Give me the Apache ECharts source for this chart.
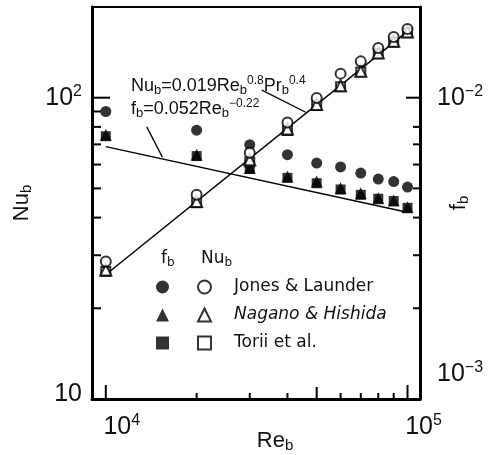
<!DOCTYPE html>
<html>
<head>
<meta charset="utf-8">
<script src="https://cdn.jsdelivr.net/npm/echarts@6/dist/echarts.min.js"></script>
<style>
  html, body { margin: 0; padding: 0; background: #fff; }
  #chart { width: 495px; height: 455px; }
</style>
</head>
<body>
<div id="chart"></div>
<script>
// Bulk Reynolds numbers of the measurement stations
const reynolds = [1e4, 2e4, 3e4, 4e4, 5e4, 6e4, 7e4, 8e4, 9e4, 1e5];

// Nusselt number Nu_b
const nuJones  = [28.6, 47.6, 65.6, 82.8, 99.8, 120.2, 132.0, 146.2, 159.1, 169.1];
const nuNagano = [26.8, 45.2, 62.2, 78.7, 95.0, 109.6, 122.3, 140.8, 153.8, 165.3];
const nuTorii  = [26.5, 44.8, 61.2, 77.8, 94.2, 108.8, 121.6, 139.8, 152.8, 164.4];

// Friction factor f_b
const fJones  = [9.0e-3, 7.8e-3, 6.98e-3, 6.47e-3, 6.07e-3, 5.89e-3, 5.62e-3, 5.37e-3, 5.27e-3, 5.05e-3];
const fNagano = [7.54e-3, 6.47e-3, 5.85e-3, 5.48e-3, 5.27e-3, 5.01e-3, 4.82e-3, 4.64e-3, 4.56e-3, 4.33e-3];
const fTorii  = [7.45e-3, 6.40e-3, 5.80e-3, 5.42e-3, 5.20e-3, 4.96e-3, 4.76e-3, 4.62e-3, 4.54e-3, 4.31e-3];

// Correlation lines (end points)
const nuFitRe = [1.03e4, 1e5];
const nuFitValues = [26.5, 166];
const fFitRe = [1e4, 9.8e4];
const fFitValues = [6.88e-3, 4.18e-3];

// Annotation arrows (tail, head)
const nuArrowRe = [3.29e4, 4.6e4];
const nuArrowValues = [106, 89.5];
const fArrowRe = [1.367e4, 1.54e4];
const fArrowValues = [8.0e-3, 6.35e-3];

// Axis ranges, ticks and labels
const reRange = [9000, 110000];
const nuRange = [10, 200];
const fRange = [1e-3, 2e-2];
const reTicks = [1e4, 2e4, 3e4, 4e4, 5e4, 6e4, 7e4, 8e4, 9e4, 1e5];
const nuTicks = [20, 30, 40, 50, 60, 70, 80, 90, 100];
const fTicks = [2e-3, 3e-3, 4e-3, 5e-3, 6e-3, 7e-3, 8e-3, 1e-2];
const reLabels = [1e4, 1e5];
const nuLabels = [10, 100];
const fLabels = [1e-3, 1e-2];

const FONT = '"Liberation Sans", Arial, Helvetica, sans-serif';
const LEGEND_FONT = '"DejaVu Sans", "Liberation Sans", sans-serif';
const near = (a, b) => Math.abs(Math.log10(a / b)) < 1e-6;
const isDecade = v => near(v, Math.pow(10, Math.round(Math.log10(v))));
const isHalfDecade = v => near(v / 5, Math.pow(10, Math.round(Math.log10(v / 5))));
const exponent = v => Math.round(Math.log10(v));

const labelRich = {
  m:   { fontFamily: FONT, fontSize: 25, lineHeight: 28, color: '#111' },
  s:   { fontFamily: FONT, fontSize: 16, lineHeight: 16, color: '#111', verticalAlign: 'top' },
  g10: { fontSize: 1, lineHeight: 10 },
  g50: { fontSize: 1, lineHeight: 50 }
};
const nameRich = {
  m: { fontFamily: FONT, fontSize: 22, lineHeight: 24, color: '#111' },
  s: { fontFamily: FONT, fontSize: 15, lineHeight: 12, color: '#111', verticalAlign: 'bottom' }
};

// Inward tick marks drawn through the axis scales
function tickSeries(values, side, yAxisIndex, fixed) {
  return {
    type: 'custom',
    xAxisIndex: 0,
    yAxisIndex: yAxisIndex,
    silent: true,
    clip: false,
    z: 6,
    data: values.map(v => side === 'bottom' ? [v, fixed] : [fixed, v]),
    renderItem(params, api) {
      const p = api.coord([api.value(0), api.value(1)]);
      const v = side === 'bottom' ? api.value(0) : api.value(1);
      let len;
      if (side === 'bottom') len = isDecade(v) ? 14 : (isHalfDecade(v) ? 12 : 6);
      else if (side === 'left') len = isDecade(v) ? 18 : 9;
      else len = isDecade(v) ? 14 : 7;
      let shape;
      if (side === 'bottom') shape = { x1: p[0], y1: p[1], x2: p[0], y2: p[1] - len };
      else if (side === 'left') shape = { x1: p[0], y1: p[1], x2: p[0] + len, y2: p[1] };
      else shape = { x1: p[0], y1: p[1], x2: p[0] - len, y2: p[1] };
      return { type: 'line', shape: shape, style: { stroke: '#000', lineWidth: 2 } };
    }
  };
}

function scatter(name, values, yAxisIndex, symbol, size) {
  const empty = symbol.indexOf('empty') === 0;
  return {
    name: name,
    type: 'scatter',
    yAxisIndex: yAxisIndex,
    symbol: symbol,
    symbolSize: size,
    data: reynolds.map((r, i) => [r, values[i]]),
    itemStyle: empty
      ? { color: '#000', borderColor: '#000', borderWidth: 1.6 }
      : { color: '#000' },
    z: 4
  };
}

const arrowStyle = { color: '#000', width: 1.3, type: 'solid' };
const legendText = { fontFamily: LEGEND_FONT, fontSize: 17, lineHeight: 20, color: '#111' };

const chart = echarts.init(document.getElementById('chart'));
chart.setOption({
  animation: false,
  backgroundColor: '#fff',
  grid: {
    left: 92, right: 75, top: 7, bottom: 56,
    containLabel: false, outerBoundsMode: 'none',
    show: true, borderColor: '#000', borderWidth: 2
  },
  xAxis: {
    type: 'log', logBase: 10, min: reRange[0], max: reRange[1],
    position: 'bottom',
    axisLine: { show: true, onZero: false, lineStyle: { color: '#000', width: 3 } },
    axisTick: { show: false },
    splitLine: { show: false },
    axisLabel: {
      margin: 14, align: 'center', padding: [0, 0, 0, 32],
      showMinLabel: true, showMaxLabel: true,
      formatter: v => reLabels.some(t => near(t, v)) ? '{m|10}{s|' + exponent(v) + '}' : '',
      rich: labelRich
    },
    name: '{m|Re}{s|b}',
    nameLocation: 'middle', nameGap: 30, nameMoveOverlap: false,
    nameTextStyle: { rich: nameRich, padding: [0, 0, 0, 38] }
  },
  yAxis: [
    {
      type: 'log', logBase: 10, min: nuRange[0], max: nuRange[1],
      position: 'left',
      axisLine: { show: true, onZero: false, lineStyle: { color: '#000', width: 3 } },
      axisTick: { show: false },
      splitLine: { show: false },
      axisLabel: {
        margin: 10,
        formatter: v => {
          if (!nuLabels.some(t => near(t, v))) return '';
          return exponent(v) === 1 ? '{m|10}\n{g10|}' : '{m|10}{s|' + exponent(v) + '}';
        },
        rich: labelRich
      },
      name: '{m|Nu}{s|b}',
      nameLocation: 'middle', nameGap: 58, nameRotate: 90, nameMoveOverlap: false,
      nameTextStyle: { rich: nameRich }
    },
    {
      type: 'log', logBase: 10, min: fRange[0], max: fRange[1],
      position: 'right',
      axisLine: { show: true, onZero: false, lineStyle: { color: '#000', width: 3 } },
      axisTick: { show: false },
      splitLine: { show: false },
      axisLabel: {
        margin: 17,
        formatter: v => {
          if (!fLabels.some(t => near(t, v))) return '';
          const body = '{m|10}{s|\u2212' + Math.abs(exponent(v)) + '}';
          return exponent(v) === -3 ? body + '\n{g50|}' : body;
        },
        rich: labelRich
      },
      name: '{m|f}{s|b}',
      nameLocation: 'middle', nameGap: 27, nameRotate: 90, nameMoveOverlap: false,
      nameTextStyle: { rich: nameRich }
    }
  ],
  legend: [
    {
      data: ['Jones & Launder (f)', 'Nagano & Hishida (f)', 'Torii et al. (f)'],
      orient: 'vertical', left: 156, top: 277, padding: 0,
      itemWidth: 13, itemHeight: 13, itemGap: 8,
      selectedMode: false,
      formatter: () => ' ',
      textStyle: legendText
    },
    {
      data: ['Jones & Launder', 'Nagano & Hishida', 'Torii et al.'],
      orient: 'vertical', left: 197, top: 277, padding: 0,
      itemWidth: 13, itemHeight: 13, itemGap: 8,
      selectedMode: false,
      formatter: name => name === 'Nagano & Hishida' ? '{i|' + name + '}' : '{n|' + name + '}',
      textStyle: {
        fontFamily: LEGEND_FONT, fontSize: 17, lineHeight: 20, color: '#111',
        rich: {
          n: { fontFamily: LEGEND_FONT, fontSize: 17, lineHeight: 20, color: '#111', padding: [0, 0, 0, 18] },
          i: { fontFamily: LEGEND_FONT, fontSize: 17, lineHeight: 20, color: '#111', fontStyle: 'italic', padding: [0, 0, 0, 18] }
        }
      }
    }
  ],
  graphic: [
    {
      type: 'text', left: 131, top: 75, z: 10,
      style: {
        text: '{m|Nu}{s|b}{m|=0.019Re}{s|b}{p|0.8}{m|Pr}{s|b}{p|0.4}',
        rich: {
          m: { fontFamily: FONT, fontSize: 18, lineHeight: 22, fill: '#111' },
          s: { fontFamily: FONT, fontSize: 13, lineHeight: 11, fill: '#111', verticalAlign: 'bottom' },
          p: { fontFamily: FONT, fontSize: 12, lineHeight: 12, fill: '#111', verticalAlign: 'top' }
        }
      }
    },
    {
      type: 'text', left: 131, top: 98, z: 10,
      style: {
        text: '{m|f}{s|b}{m|=0.052Re}{s|b}{p|\u22120.22}',
        rich: {
          m: { fontFamily: FONT, fontSize: 18, lineHeight: 22, fill: '#111' },
          s: { fontFamily: FONT, fontSize: 13, lineHeight: 11, fill: '#111', verticalAlign: 'bottom' },
          p: { fontFamily: FONT, fontSize: 12, lineHeight: 12, fill: '#111', verticalAlign: 'top' }
        }
      }
    },
    {
      type: 'text', left: 161, top: 250, z: 10,
      style: {
        text: '{m|f}{s|b}',
        rich: {
          m: { fontFamily: LEGEND_FONT, fontSize: 17, lineHeight: 20, fill: '#111' },
          s: { fontFamily: LEGEND_FONT, fontSize: 12, lineHeight: 10, fill: '#111', verticalAlign: 'bottom' }
        }
      }
    },
    {
      type: 'text', left: 201, top: 250, z: 10,
      style: {
        text: '{m|Nu}{s|b}',
        rich: {
          m: { fontFamily: LEGEND_FONT, fontSize: 17, lineHeight: 20, fill: '#111' },
          s: { fontFamily: LEGEND_FONT, fontSize: 12, lineHeight: 10, fill: '#111', verticalAlign: 'bottom' }
        }
      }
    }
  ],
  series: [
    {
      name: 'Nu correlation', type: 'line', yAxisIndex: 0,
      data: nuFitRe.map((r, i) => [r, nuFitValues[i]]),
      symbol: 'none', lineStyle: { color: '#000', width: 1.5 }, z: 2, silent: true,
      markLine: {
        silent: true, symbol: ['none', 'arrow'], symbolSize: [0, 11],
        label: { show: false }, lineStyle: arrowStyle,
        data: [[{ coord: [nuArrowRe[0], nuArrowValues[0]] }, { coord: [nuArrowRe[1], nuArrowValues[1]] }]]
      }
    },
    {
      name: 'f correlation', type: 'line', yAxisIndex: 1,
      data: fFitRe.map((r, i) => [r, fFitValues[i]]),
      symbol: 'none', lineStyle: { color: '#000', width: 1.5 }, z: 2, silent: true,
      markLine: {
        silent: true, symbol: ['none', 'arrow'], symbolSize: [0, 11],
        label: { show: false }, lineStyle: arrowStyle,
        data: [[{ coord: [fArrowRe[0], fArrowValues[0]] }, { coord: [fArrowRe[1], fArrowValues[1]] }]]
      }
    },
    scatter('Torii et al. (f)', fTorii, 1, 'rect', 10),
    scatter('Nagano & Hishida (f)', fNagano, 1, 'triangle', 12),
    scatter('Jones & Launder (f)', fJones, 1, 'circle', 11),
    scatter('Torii et al.', nuTorii, 0, 'emptyRect', 9),
    scatter('Nagano & Hishida', nuNagano, 0, 'emptyTriangle', 11),
    scatter('Jones & Launder', nuJones, 0, 'emptyCircle', 10),
    tickSeries(reTicks, 'bottom', 0, nuRange[0]),
    tickSeries(nuTicks, 'left', 0, reRange[0]),
    tickSeries(fTicks, 'right', 1, reRange[1])
  ]
});
</script>
</body>
</html>
